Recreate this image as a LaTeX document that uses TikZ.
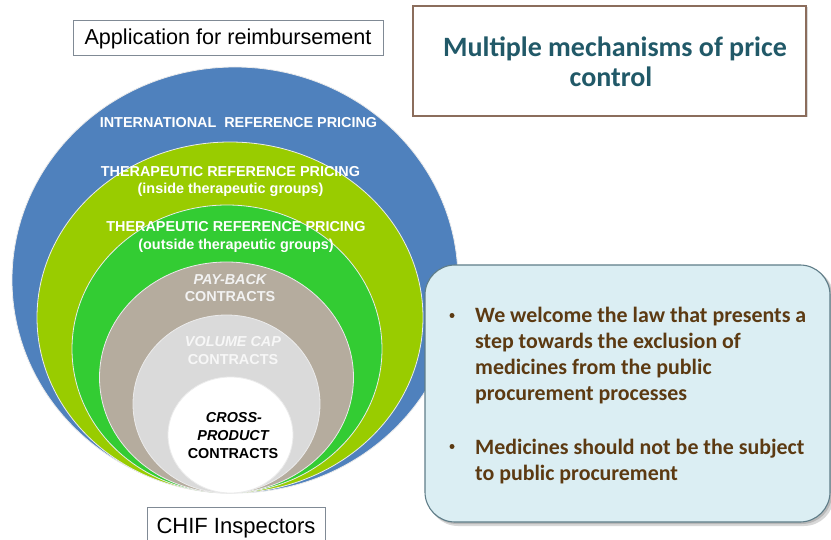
\documentclass[tikz,border=0pt]{standalone}
\usepackage{fontspec}
\setmainfont{Liberation Sans}
\newfontfamily\calibri{Carlito}
\begin{document}
\definecolor{ringblue}{HTML}{4F81BD}
\definecolor{ringlime}{HTML}{99CC00}
\definecolor{ringgreen}{HTML}{33CC33}
\definecolor{ringtan}{HTML}{B5AC9E}
\definecolor{ringgrey}{HTML}{DADADA}
\definecolor{titleteal}{HTML}{215968}
\definecolor{notebrown}{HTML}{5C3A12}
\definecolor{notefill}{HTML}{DBEEF3}
\definecolor{noteedge}{HTML}{5F7D88}
\definecolor{titleedge}{HTML}{8B6D5C}
\definecolor{labeledge}{HTML}{808A95}
\begin{tikzpicture}[x=1pt,y=-1pt,
  ring/.style={draw=white!92!black,line width=0.8pt},
  ringtext/.style={anchor=base,inner sep=0pt,text=white,font=\fontsize{14.4}{16}\selectfont\bfseries},
  labelbox/.style={draw=labeledge,line width=0.9pt,fill=white},
  labeltext/.style={anchor=base,inner sep=0pt,font=\fontsize{21.6}{24}\selectfont},
  notetext/.style={anchor=base west,inner sep=0pt,text=notebrown,font=\calibri\fontsize{21.9}{25}\selectfont\bfseries},
  bulletmark/.style={circle,fill=notebrown,inner sep=0pt,minimum size=5pt}]
\useasboundingbox (0,0) rectangle (831,540);
\clip (0,0) rectangle (831,540);

% nested rings, outermost first
\path[ring,fill=ringblue]  (235,280)   ellipse [x radius=223pt,  y radius=213pt];
\path[ring,fill=ringlime]  (230,317.5) ellipse [x radius=193pt,  y radius=175.5pt];
\path[ring,fill=ringgreen] (227,349)   ellipse [x radius=155pt,  y radius=144pt];
\path[ring,fill=ringtan]   (226.5,377.5) ellipse [x radius=127pt, y radius=115.5pt];
\path[ring,fill=ringgrey]  (226.5,404) ellipse [x radius=93.5pt, y radius=89pt];
\path[ring,fill=white]     (230.5,435) ellipse [x radius=62.5pt, y radius=58pt];

% ring labels
\node[ringtext] (irp)   at (238.5,128) {INTERNATIONAL\ \ REFERENCE PRICING};
\node[ringtext] (trpa)  at (230.5,176.5) {THERAPEUTIC REFERENCE PRICING};
\node[ringtext] (trpb)  at (230.5,193.5) {(inside therapeutic groups)};
\node[ringtext] (trpc)  at (236,232) {THERAPEUTIC REFERENCE PRICING};
\node[ringtext] (trpd)  at (236,249.5) {(outside therapeutic groups)};
\node[ringtext,text=white!95!black] (pba) at (230,285) {\itshape PAY-BACK};
\node[ringtext,text=white!95!black] (pbb) at (230,302) {CONTRACTS};
\node[ringtext,text=white!97!black] (vca) at (233,347) {\itshape VOLUME CAP};
\node[ringtext,text=white!97!black] (vcb) at (233,365) {CONTRACTS};
\node[ringtext,text=black] (cpa) at (234,423) {\itshape CROSS-};
\node[ringtext,text=black] (cpb) at (233,440) {\itshape PRODUCT};
\node[ringtext,text=black] (cpc) at (233,458) {CONTRACTS};

% label boxes above and below the rings
\draw[labelbox] (73,20) rectangle (383,55);
\node[labeltext] (app) at (228,44.3) {Application for reimbursement};
\draw[labelbox] (147,507) rectangle (325,552);
\node[labeltext,font=\fontsize{22}{24}\selectfont] (chif) at (236,533) {CHIF Inspectors};

% title box
\fill[black!15] (414.5,7.5) rectangle (807.5,117.5);
\draw[draw=titleedge,line width=1.2pt,fill=white] (413,6) rectangle (806,116);
\node[anchor=base,inner sep=0pt,text=titleteal,font=\calibri\fontsize{28}{30}\selectfont\bfseries] (ttla) at (615,57) {Multiple mechanisms of price};
\node[anchor=base,inner sep=0pt,text=titleteal,font=\calibri\fontsize{28}{30}\selectfont\bfseries] (ttlb) at (611,87) {control};

% note box with soft shadow
\fill[black!30,opacity=0.5,rounded corners=30pt] (428,268) rectangle (834,526);
\fill[black!40,opacity=0.5,rounded corners=30pt] (426.5,266.5) rectangle (832,524);
\draw[draw=noteedge,line width=1.1pt,fill=notefill,rounded corners=30pt] (425,265) rectangle (830,522);

\node[bulletmark] (bulA) at (452,315.5) {};
\node[notetext] (la) at (475,323) {We welcome the law that presents a};
\node[notetext] (lb) at (475,349) {step towards the exclusion of};
\node[notetext] (lc) at (475,375) {medicines from the public};
\node[notetext] (ld) at (475,400.7) {procurement processes};
\node[bulletmark] (bulB) at (452,446.5) {};
\node[notetext] (le) at (475,454) {Medicines should not be the subject};
\node[notetext] (lf) at (475,480.7) {to public procurement};
\end{tikzpicture}
\end{document}
